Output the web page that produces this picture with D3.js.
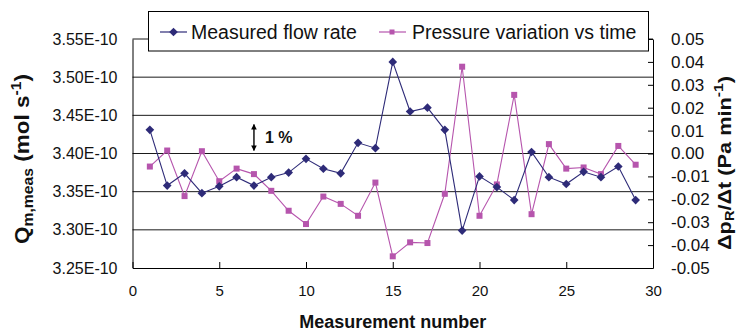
<!DOCTYPE html>
<html>
<head>
<meta charset="utf-8">
<script src="https://cdn.jsdelivr.net/npm/d3@7"></script>
<style>
  html, body { margin: 0; padding: 0; background: #fff; }
  svg { display: block; font-family: "Liberation Sans", Arial, sans-serif; }
</style>
</head>
<body>
<svg id="chart" width="737" height="333"></svg>
<script>
// Measurement index, flow rate (mol/s) and pressure drift (Pa/min)
const measurement = d3.range(1, 30);
const flowRate = [3.431, 3.358, 3.374, 3.348, 3.357, 3.369, 3.358, 3.369, 3.375, 3.393,
                  3.380, 3.374, 3.414, 3.407, 3.520, 3.455, 3.460, 3.431, 3.299, 3.370,
                  3.356, 3.339, 3.402, 3.369, 3.360, 3.376, 3.369, 3.383, 3.339].map(v => v * 1e-10);
const pressureVar = [-0.0057, 0.0013, -0.0186, 0.0010, -0.0121, -0.0066, -0.0090, -0.0163, -0.0250, -0.0308,
                     -0.0188, -0.0220, -0.0272, -0.0127, -0.0449, -0.0388, -0.0391, -0.0176, 0.0379, -0.0272,
                     -0.0135, 0.0256, -0.0265, 0.0041, -0.0066, -0.0061, -0.0090, 0.0033, -0.0049];
const xTicks = [0, 5, 10, 15, 20, 25, 30];
const leftTicks = [3.25, 3.30, 3.35, 3.40, 3.45, 3.50, 3.55].map(v => v * 1e-10);
const rightTicks = [-0.05, -0.04, -0.03, -0.02, -0.01, 0, 0.01, 0.02, 0.03, 0.04, 0.05];
const seriesNames = ["Measured flow rate", "Pressure variation vs time"];
const onePercentBar = [3.404e-10, 3.438e-10];   // 1 % band of the flow rate

const svg = d3.select("#chart");
const L = 132.5, R = 653, T = 39, B = 268;
const navy = "#2e2b78", magenta = "#b655ad";

const x = d3.scaleLinear().domain([0, 30]).range([L, R]);
const yL = d3.scaleLinear().domain([3.25e-10, 3.55e-10]).range([B, T]);
const yR = d3.scaleLinear().domain([-0.05, 0.05]).range([B, T]);

// horizontal gridlines at every left-axis tick
svg.append("g").selectAll("line").data(leftTicks.slice(1)).join("line")
  .attr("x1", L).attr("x2", R)
  .attr("y1", d => yL(d)).attr("y2", d => yL(d))
  .attr("stroke", "#1a1a1a").attr("stroke-width", 1);

// left axis
const gL = svg.append("g").attr("transform", `translate(${L},0)`)
  .call(d3.axisLeft(yL).tickValues(leftTicks).tickSize(0).tickPadding(15)
    .tickFormat(d => (d * 1e10).toFixed(2) + "E-10"));
gL.select(".domain").attr("stroke", "#000");
gL.selectAll("text").attr("font-size", 16).attr("fill", "#111").attr("font-family", "Liberation Sans, Arial, sans-serif");

// right axis (ticks pointing into the plot)
const gR = svg.append("g").attr("transform", `translate(${R},0)`)
  .call(d3.axisRight(yR).tickValues(rightTicks).tickSizeInner(-5).tickSizeOuter(0).tickPadding(18)
    .tickFormat(d => d.toFixed(2)));
gR.select(".domain").attr("stroke", "#000");
gR.selectAll(".tick line").attr("stroke", "#000");
gR.selectAll("text").attr("font-size", 17).attr("fill", "#111").attr("font-family", "Liberation Sans, Arial, sans-serif");

// bottom axis
const gB = svg.append("g").attr("transform", `translate(0,${B})`)
  .call(d3.axisBottom(x).tickValues(xTicks).tickSizeInner(-6).tickSizeOuter(0).tickPadding(17)
    .tickFormat(d3.format("d")));
gB.select(".domain").attr("stroke", "#000");
gB.selectAll(".tick line").attr("stroke", "#000");
gB.selectAll("text").attr("font-size", 15).attr("fill", "#111").attr("font-family", "Liberation Sans, Arial, sans-serif");

// pressure variation series (right axis)
svg.append("path").datum(pressureVar)
  .attr("fill", "none").attr("stroke", magenta).attr("stroke-width", 1.1)
  .attr("d", d3.line().x((d, i) => x(measurement[i])).y(d => yR(d)));
svg.append("g").selectAll("rect").data(pressureVar).join("rect")
  .attr("x", (d, i) => x(measurement[i]) - 3).attr("y", d => yR(d) - 3)
  .attr("width", 6).attr("height", 6).attr("fill", magenta);

// flow rate series (left axis)
svg.append("path").datum(flowRate)
  .attr("fill", "none").attr("stroke", navy).attr("stroke-width", 1.1)
  .attr("d", d3.line().x((d, i) => x(measurement[i])).y(d => yL(d)));
const diamond = d3.symbol().type(d3.symbolDiamond2).size(48);
svg.append("g").selectAll("path").data(flowRate).join("path")
  .attr("d", diamond)
  .attr("transform", (d, i) => `translate(${x(measurement[i])},${yL(d)})`)
  .attr("fill", navy);

// 1 % scale bar
const defs = svg.append("defs");
["start", "end"].forEach(k => {
  defs.append("marker").attr("id", "ah-" + k)
    .attr("viewBox", "0 0 10 10").attr("refX", 9).attr("refY", 5)
    .attr("markerWidth", 4).attr("markerHeight", 4).attr("orient", k === "start" ? "auto-start-reverse" : "auto")
    .append("path").attr("d", "M0,0 L10,5 L0,10 z").attr("fill", "#000");
});
svg.append("line")
  .attr("x1", x(7)).attr("x2", x(7))
  .attr("y1", yL(onePercentBar[0])).attr("y2", yL(onePercentBar[1]))
  .attr("stroke", "#000").attr("stroke-width", 1.4)
  .attr("marker-start", "url(#ah-start)").attr("marker-end", "url(#ah-end)");
svg.append("text").attr("x", x(7) + 11).attr("y", yL((onePercentBar[0] + onePercentBar[1]) / 2) + 6)
  .attr("font-size", 16).attr("font-weight", "bold").attr("fill", "#111").text("1 %");

// legend
const lg = svg.append("g");
lg.append("rect").attr("x", 148.5).attr("y", 11.5).attr("width", 500).attr("height", 39.5)
  .attr("fill", "#fff").attr("stroke", "#000").attr("stroke-width", 1);
lg.append("line").attr("x1", 160).attr("x2", 187).attr("y1", 32).attr("y2", 32).attr("stroke", navy).attr("stroke-width", 1.2);
lg.append("path").attr("d", diamond).attr("transform", "translate(173.5,32)").attr("fill", navy);
lg.append("text").attr("x", 191).attr("y", 38.5).attr("font-size", 19.5).attr("fill", "#111").text(seriesNames[0]);
lg.append("line").attr("x1", 379).attr("x2", 406).attr("y1", 32).attr("y2", 32).attr("stroke", magenta).attr("stroke-width", 1.2);
lg.append("rect").attr("x", 389.5).attr("y", 29.5).attr("width", 5).attr("height", 5).attr("fill", magenta);
lg.append("text").attr("x", 412).attr("y", 38.5).attr("font-size", 19.5).attr("fill", "#111").text(seriesNames[1]);

// axis titles
svg.append("text").attr("x", (L + R) / 2).attr("y", 328)
  .attr("text-anchor", "middle").attr("font-size", 18).attr("font-weight", "bold").attr("fill", "#111")
  .text("Measurement number");

const tl = svg.append("text")
  .attr("transform", "translate(29,159) rotate(-90)")
  .attr("text-anchor", "middle").attr("font-size", 20).attr("font-weight", "bold").attr("fill", "#111")
  .attr("textLength", 170).attr("lengthAdjust", "spacingAndGlyphs");
tl.append("tspan").text("Q");
tl.append("tspan").attr("font-size", 14).attr("dy", 4).text("m,meas");
tl.append("tspan").attr("dy", -4).text(" (mol s");
tl.append("tspan").attr("font-size", 14).attr("dy", -8).text("-1");
tl.append("tspan").attr("dy", 8).text(")");

const tr = svg.append("text")
  .attr("transform", "translate(731,163) rotate(-90)")
  .attr("text-anchor", "middle").attr("font-size", 18).attr("font-weight", "bold").attr("fill", "#111")
  .attr("textLength", 174).attr("lengthAdjust", "spacingAndGlyphs");
tr.append("tspan").text("Δp");
tr.append("tspan").attr("font-size", 12).attr("dy", 3).text("R");
tr.append("tspan").attr("dy", -3).text("/Δt (Pa min");
tr.append("tspan").attr("font-size", 13).attr("dy", -8).text("-1");
tr.append("tspan").attr("dy", 8).text(")");
</script>
</body>
</html>
